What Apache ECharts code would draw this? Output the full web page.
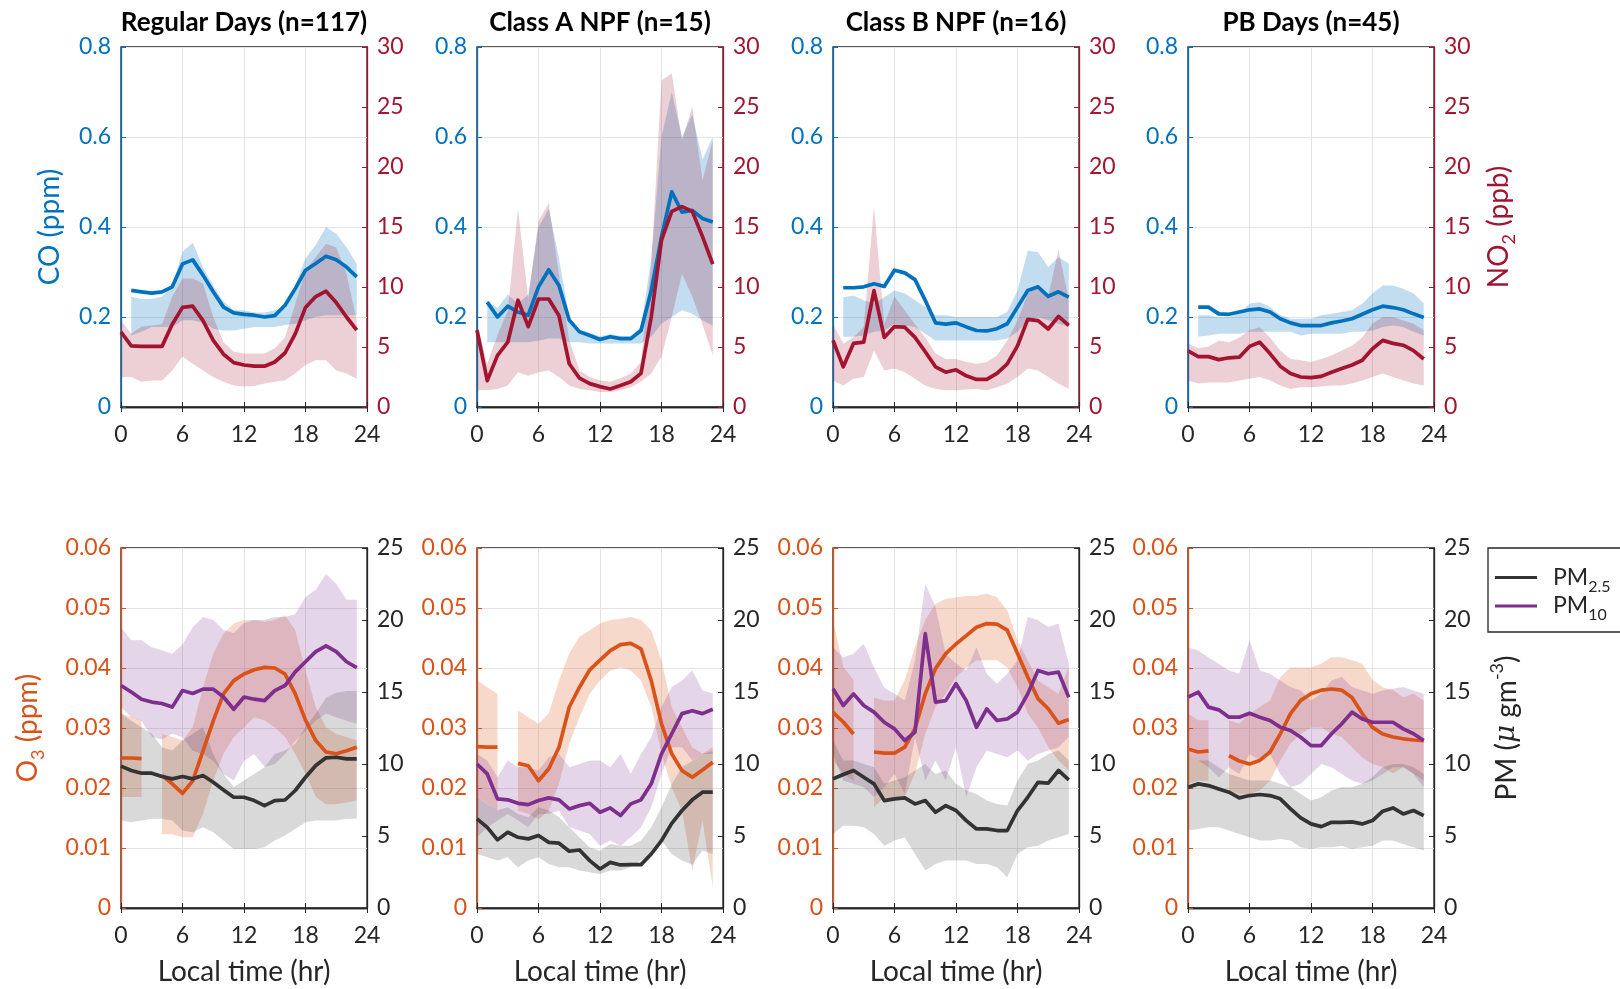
<!DOCTYPE html>
<html><head><meta charset="utf-8">
<script src="https://cdn.jsdelivr.net/npm/echarts@6/dist/echarts.min.js"></script>
<style>html,body{margin:0;padding:0;background:#fff}#c{width:1620px;height:989px}</style>
</head><body><div id="c"></div>
<script>
// ---------- categories / tick labels ----------
const hourCats = ['0','1','2','3','4','5','6','7','8','9','10','11','12','13','14','15','16','17','18','19','20','21','22','23','24'];
const panelTitles = ['Regular Days (n=117)','Class A NPF (n=15)','Class B NPF (n=16)','PB Days (n=45)'];

// ---------- CO (ppm): mean, lower, upper ----------
const co_reg    = [null,0.259,0.256,0.253,0.256,0.267,0.318,0.327,0.293,0.256,0.222,0.209,0.206,0.204,0.200,0.203,0.226,0.263,0.304,0.319,0.335,0.327,0.311,0.289];
const co_reg_lo = [null,0.159,0.167,0.178,0.178,0.178,0.193,0.193,0.187,0.174,0.170,0.170,0.174,0.178,0.178,0.178,0.182,0.185,0.193,0.200,0.204,0.204,0.204,0.204];
const co_reg_hi = [null,0.245,0.240,0.240,0.245,0.270,0.345,0.365,0.310,0.270,0.235,0.215,0.215,0.210,0.210,0.215,0.220,0.270,0.330,0.360,0.400,0.385,0.355,0.318];
const co_a      = [null,0.233,0.200,0.224,0.211,0.204,0.267,0.305,0.270,0.193,0.167,0.159,0.150,0.156,0.152,0.152,0.170,0.259,0.378,0.478,0.433,0.437,0.419,0.411];
const co_a_lo   = [null,0.144,0.144,0.144,0.144,0.144,0.148,0.152,0.152,0.144,0.144,0.141,0.141,0.141,0.141,0.141,0.141,0.156,0.185,0.200,0.215,0.207,0.193,0.181];
const co_a_hi   = [null,0.235,0.220,0.250,0.230,0.250,0.400,0.440,0.330,0.200,0.172,0.165,0.157,0.162,0.158,0.158,0.178,0.330,0.600,0.700,0.600,0.650,0.550,0.600];
const co_b      = [null,0.265,0.265,0.267,0.274,0.268,0.304,0.298,0.283,0.237,0.187,0.184,0.187,0.178,0.170,0.169,0.174,0.185,0.222,0.259,0.267,0.246,0.256,0.244];
const co_b_lo   = [null,0.156,0.156,0.159,0.167,0.170,0.185,0.181,0.178,0.163,0.148,0.148,0.148,0.148,0.148,0.148,0.148,0.152,0.167,0.193,0.200,0.193,0.185,0.178];
const co_b_hi   = [null,0.244,0.248,0.237,0.230,0.244,0.259,0.252,0.237,0.222,0.204,0.204,0.200,0.200,0.200,0.200,0.200,0.211,0.259,0.348,0.344,0.311,0.333,0.319];
const co_pb     = [null,0.222,0.222,0.207,0.206,0.211,0.216,0.218,0.211,0.196,0.187,0.181,0.181,0.181,0.187,0.191,0.196,0.206,0.216,0.224,0.221,0.216,0.207,0.199];
const co_pb_lo  = [null,0.156,0.159,0.163,0.163,0.163,0.167,0.167,0.167,0.167,0.167,0.159,0.163,0.163,0.163,0.163,0.167,0.167,0.170,0.178,0.181,0.178,0.167,0.159];
const co_pb_hi  = [null,0.204,0.204,0.200,0.200,0.207,0.230,0.233,0.222,0.204,0.196,0.196,0.196,0.204,0.207,0.211,0.215,0.230,0.252,0.270,0.270,0.263,0.252,0.230];

// ---------- NO2 (ppb) ----------
const no2_reg    = [6.25,5.1,5.05,5.05,5.05,6.9,8.3,8.4,7.2,5.55,4.4,3.7,3.5,3.4,3.4,3.75,4.5,6.1,8.3,9.2,9.65,8.7,7.5,6.4];
const no2_reg_lo = [2.5,2.5,2.1,2.2,2.2,3.05,4.2,3.6,3.05,2.5,2.1,1.8,1.7,1.75,1.95,2.1,2.2,2.8,3.5,3.9,3.9,3.05,2.8,2.35];
const no2_reg_hi = [7.2,6.1,6.7,6.8,6.9,9.2,10.7,10.7,10.3,7.5,5.4,4.6,4.45,4.45,4.45,4.9,5.8,8.6,11.4,12.5,13.6,13.3,11.1,7.2];
const no2_a      = [6.4,2.2,4.3,5.4,8.9,6.7,9.0,9.0,7.6,3.6,2.4,1.95,1.7,1.5,1.8,2.1,2.8,7.5,13.9,16.3,16.7,16.3,14.2,11.9];
const no2_a_lo   = [1.4,1.4,1.5,1.8,2.9,2.6,2.9,3.05,2.5,1.8,1.5,1.4,1.25,1.25,1.4,1.65,2.1,2.8,4.2,7.5,11.1,9.2,6.9,4.3];
const no2_a_hi   = [6.9,3.6,6.0,8.0,16.5,9.0,15.5,17.0,11.0,5.55,3.05,2.5,2.2,2.1,2.4,2.8,3.75,11.9,27.2,27.8,22.2,25.0,18.9,22.2];
const no2_b      = [5.55,3.35,5.3,5.4,9.7,5.8,6.7,6.65,5.8,4.6,3.35,2.9,3.1,2.6,2.3,2.3,2.8,3.6,5.1,7.3,7.2,6.5,7.55,6.8];
const no2_b_lo   = [2.2,1.8,2.35,2.5,4.7,3.05,3.2,2.9,2.35,1.8,1.5,1.4,1.4,1.45,1.5,1.4,1.65,1.95,2.5,3.2,3.05,2.5,1.95,1.5];
const no2_b_hi   = [6.9,5.3,5.8,6.7,16.7,6.9,9.2,8.05,6.9,5.8,4.45,4.0,4.0,3.75,3.6,3.75,4.3,5.55,7.2,9.45,10.0,9.2,13.1,8.9];
const no2_pb     = [4.67,4.2,4.2,3.95,4.1,4.15,5.05,5.4,4.45,3.4,2.8,2.5,2.45,2.55,2.9,3.2,3.5,3.9,4.85,5.55,5.3,5.15,4.7,4.0];
const no2_pb_lo  = [2.2,1.95,2.05,2.05,2.05,2.2,2.35,2.5,2.2,1.8,1.5,1.65,1.65,1.7,1.8,1.8,1.95,2.2,2.5,2.8,2.5,2.2,1.95,1.8];
const no2_pb_hi  = [5.3,4.9,5.05,5.55,5.4,5.8,6.4,6.65,5.8,4.7,4.0,3.9,3.75,4.0,4.3,4.7,5.1,5.8,6.95,7.5,7.5,7.2,6.95,6.4];

// ---------- O3 (ppm) ----------
const o3_reg    = [0.025,0.025,0.0249,null,0.0221,0.0207,0.0191,0.0212,0.0262,0.0312,0.0357,0.0379,0.039,0.0397,0.0401,0.04,0.039,0.0357,0.0313,0.0279,0.026,0.0257,0.0262,0.0268];
const o3_reg_lo = [0.0185,0.0185,0.0185,null,0.0123,0.0123,0.0118,0.0118,0.0157,0.0212,0.0257,0.0285,0.0301,0.0318,0.0313,0.0301,0.0285,0.0257,0.0224,0.0185,0.0173,0.0173,0.0176,0.0179];
const o3_reg_hi = [0.0324,0.0318,0.0313,null,0.029,0.0285,0.0279,0.0301,0.0368,0.0424,0.0457,0.0474,0.048,0.048,0.0477,0.048,0.0488,0.0463,0.0396,0.0335,0.0301,0.029,0.0285,0.0279];
const o3_a      = [0.0269,0.0268,0.0268,null,0.0241,0.0237,0.0212,0.0232,0.0268,0.0335,0.0368,0.0397,0.0413,0.0429,0.0439,0.0441,0.0432,0.0379,0.0307,0.0257,0.0229,0.0218,0.023,0.0243];
const o3_a_lo   = [0.0185,0.0174,0.0162,null,0.0162,0.0157,0.0148,0.0162,0.0207,0.0274,0.0318,0.0357,0.0379,0.0396,0.0401,0.0396,0.0379,0.0335,0.0257,0.0201,0.0162,0.0062,0.0146,0.0035];
const o3_a_hi   = [0.0379,0.0368,0.0357,null,0.0329,0.0318,0.0307,0.0324,0.0379,0.0424,0.0452,0.0463,0.0474,0.048,0.0482,0.0485,0.048,0.0463,0.0413,0.0335,0.0301,0.0268,0.0257,0.0268];
const o3_b      = [0.0326,0.031,0.029,null,0.026,0.0258,0.0258,0.0268,0.0299,0.0357,0.0399,0.0424,0.044,0.0454,0.0468,0.0474,0.0473,0.0463,0.0424,0.0385,0.0349,0.0332,0.0308,0.0314];
const o3_b_lo   = [0.0246,0.0224,0.0212,null,0.0168,0.0185,0.0179,0.0185,0.0224,0.029,0.0335,0.0357,0.0385,0.0401,0.0413,0.0413,0.0413,0.0401,0.0368,0.0324,0.0301,0.0268,0.0246,0.0229];
const o3_b_hi   = [0.0479,0.0402,0.038,null,0.0351,0.0346,0.0346,0.038,0.0435,0.048,0.0507,0.0515,0.0518,0.052,0.052,0.0524,0.0518,0.0496,0.0446,0.0413,0.0379,0.0368,0.0357,0.0402];
const o3_pb     = [0.0265,0.026,0.0262,null,0.0254,0.0245,0.024,0.0246,0.026,0.029,0.0324,0.0346,0.0357,0.0363,0.0365,0.0363,0.0351,0.0324,0.0301,0.029,0.0285,0.0282,0.028,0.0279];
const o3_pb_lo  = [0.0207,0.0212,0.0212,null,0.0196,0.019,0.019,0.0196,0.0212,0.0246,0.0274,0.029,0.0301,0.0301,0.029,0.0285,0.0268,0.0251,0.024,0.0235,0.0224,0.0235,0.0224,0.0212];
const o3_pb_hi  = [0.0324,0.0313,0.0313,null,0.0313,0.0307,0.0324,0.0335,0.0346,0.0385,0.0401,0.0401,0.0401,0.0407,0.0418,0.0418,0.0413,0.0407,0.038,0.0368,0.0363,0.0351,0.0357,0.0346];

// ---------- PM2.5 (ug m-3) ----------
const pm25_reg    = [9.85,9.55,9.36,9.36,9.13,8.97,9.13,8.97,9.2,8.73,8.2,7.69,7.69,7.46,7.11,7.46,7.5,8.16,9.08,9.9,10.43,10.47,10.36,10.36];
const pm25_reg_lo = [6.07,5.95,6.07,6.19,6.19,6.07,5.38,5.26,5.61,5.26,4.68,4.1,4.1,4.1,4.22,4.68,5.03,5.49,5.95,6.07,6.07,6.07,6.19,6.19];
const pm25_reg_hi = [13.5,13.0,12.56,12.1,11.17,10.94,11.63,12.1,12.56,10.7,9.3,8.4,8.85,9.3,9.77,10.7,10.94,11.4,12.56,13.5,14.6,14.95,15.07,15.07];
const pm25_a      = [6.19,5.6,4.73,5.26,4.91,4.8,5.03,4.56,4.5,3.94,4.03,3.29,2.71,3.17,2.99,3.01,3.01,3.75,4.68,5.88,6.77,7.51,8.04,8.04];
const pm25_a_lo   = [3.75,3.52,3.29,3.52,2.83,3.29,3.52,3.06,2.83,2.83,2.6,2.48,2.36,2.6,2.6,2.83,3.29,3.75,4.68,3.75,3.3,3.0,4.0,3.75];
const pm25_a_hi   = [7.69,7.23,6.77,7.0,6.53,6.3,7.0,6.77,6.3,5.6,4.91,4.2,3.98,4.45,4.33,4.33,4.68,5.6,7.0,8.6,9.8,10.2,10.7,10.9];
const pm25_b      = [8.97,9.27,9.55,9.08,8.62,7.46,7.58,7.65,7.23,7.46,6.65,7.11,6.77,6.07,5.49,5.49,5.38,5.38,6.77,7.69,8.73,8.67,9.55,8.9];
const pm25_b_lo   = [5.14,5.72,5.72,5.61,5.14,4.33,4.68,4.91,3.75,2.6,3.06,3.29,3.29,3.29,3.06,3.06,2.83,2.13,3.75,4.22,4.33,4.68,4.91,5.14];
const pm25_b_hi   = [11.63,10.24,10.24,10.0,9.77,8.62,8.85,9.08,9.54,10.0,9.31,9.54,8.62,8.16,7.92,7.46,7.23,7.11,8.85,10.0,10.24,10.7,10.94,10.24];
const pm25_pb     = [8.39,8.62,8.5,8.27,8.04,7.65,7.81,7.88,7.81,7.58,6.88,6.26,5.84,5.65,5.95,5.95,5.98,5.84,6.07,6.72,6.95,6.53,6.77,6.42];
const pm25_pb_lo  = [5.38,5.49,5.61,5.61,5.38,5.14,4.91,4.68,4.68,4.8,4.68,4.22,4.1,4.22,4.22,4.33,4.1,4.22,4.33,4.68,4.68,4.45,4.22,3.99];
const pm25_pb_hi  = [10.7,10.24,10.24,9.77,9.31,9.08,8.85,8.85,8.85,8.62,8.39,7.92,7.46,7.69,8.16,8.39,8.39,8.62,9.08,9.78,10.0,10.0,9.77,9.31];

// ---------- PM10 (ug m-3) ----------
const pm10_reg    = [15.45,15.0,14.5,14.3,14.2,13.95,15.1,14.9,15.2,15.2,14.65,13.8,14.65,14.5,14.4,15.1,15.45,16.4,17.1,17.8,18.2,17.8,17.1,16.7];
const pm10_reg_lo = [13.95,13.25,13.0,11.9,11.7,12.1,11.86,10.9,10.7,10.2,9.3,8.85,10.2,10.7,9.8,10.0,10.7,11.6,12.3,13.0,13.5,13.25,13.0,12.8];
const pm10_reg_hi = [19.5,18.6,18.6,18.1,17.9,17.65,18.3,19.5,20.2,20.0,19.3,19.1,19.8,20.0,20.0,20.2,20.2,20.4,21.6,22.1,23.2,22.5,21.4,21.4];
const pm10_a      = [10.0,9.31,7.58,7.51,7.27,7.18,7.46,7.65,7.51,6.88,7.11,7.27,6.65,6.95,6.42,7.23,7.51,8.62,10.7,12.1,13.5,13.7,13.5,13.8];
const pm10_a_lo   = [4.91,5.6,6.07,6.53,6.07,5.6,6.53,6.53,6.77,5.6,5.38,5.14,4.33,4.68,4.33,4.91,5.6,6.98,9.3,11.17,11.17,10.24,10.7,10.7];
const pm10_a_hi   = [10.7,10.24,9.08,10.24,9.77,9.77,9.54,10.47,10.7,9.77,10.0,10.24,10.24,9.77,10.7,9.31,10.7,11.86,13.95,15.34,15.8,16.5,15.1,14.9];
const pm10_b      = [15.22,14.06,14.87,14.06,13.6,12.9,12.44,11.63,12.21,19.05,14.3,14.4,15.57,14.4,12.55,13.83,13.02,13.13,13.6,14.87,16.5,16.27,16.38,14.64];
const pm10_b_lo   = [10.7,8.85,8.62,8.39,7.7,8.39,9.31,7.92,11.86,8.85,10.24,8.85,11.17,7.7,9.77,10.94,10.7,10.47,10.94,10.24,10.7,10.94,11.17,11.86];
const pm10_b_hi   = [18.1,17.4,17.65,18.35,16.7,15.3,14.87,14.41,17.19,22.5,20.9,17.65,16.96,16.5,18.1,16.27,15.57,16.27,17.19,20.2,19.98,19.52,19.75,16.96];
const pm10_pb     = [14.64,14.99,13.95,13.76,13.25,13.25,13.53,13.25,13.02,12.56,12.33,11.86,11.28,11.28,12.1,12.79,13.6,13.13,12.9,12.9,12.9,12.44,12.1,11.63];
const pm10_pb_lo  = [10.7,10.24,9.77,9.08,9.77,9.31,10.7,10.24,10.7,9.31,8.39,8.62,9.31,10.0,9.77,9.31,8.85,8.62,8.85,9.31,9.77,9.77,9.31,8.39];
const pm10_pb_hi  = [18.1,17.88,17.4,16.96,16.5,16.27,18.6,16.5,16.27,15.8,15.34,15.1,14.41,14.87,15.8,16.04,15.34,15.1,14.87,15.1,15.22,15.34,15.1,14.87];

// ---------- assemble ----------
const topSets = [
  {co:co_reg, coLo:co_reg_lo, coHi:co_reg_hi, no2:no2_reg, no2Lo:no2_reg_lo, no2Hi:no2_reg_hi},
  {co:co_a,   coLo:co_a_lo,   coHi:co_a_hi,   no2:no2_a,   no2Lo:no2_a_lo,   no2Hi:no2_a_hi},
  {co:co_b,   coLo:co_b_lo,   coHi:co_b_hi,   no2:no2_b,   no2Lo:no2_b_lo,   no2Hi:no2_b_hi},
  {co:co_pb,  coLo:co_pb_lo,  coHi:co_pb_hi,  no2:no2_pb,  no2Lo:no2_pb_lo,  no2Hi:no2_pb_hi}
];
const botSets = [
  {o3:o3_reg, o3Lo:o3_reg_lo, o3Hi:o3_reg_hi, p25:pm25_reg, p25Lo:pm25_reg_lo, p25Hi:pm25_reg_hi, p10:pm10_reg, p10Lo:pm10_reg_lo, p10Hi:pm10_reg_hi},
  {o3:o3_a,   o3Lo:o3_a_lo,   o3Hi:o3_a_hi,   p25:pm25_a,   p25Lo:pm25_a_lo,   p25Hi:pm25_a_hi,   p10:pm10_a,   p10Lo:pm10_a_lo,   p10Hi:pm10_a_hi},
  {o3:o3_b,   o3Lo:o3_b_lo,   o3Hi:o3_b_hi,   p25:pm25_b,   p25Lo:pm25_b_lo,   p25Hi:pm25_b_hi,   p10:pm10_b,   p10Lo:pm10_b_lo,   p10Hi:pm10_b_hi},
  {o3:o3_pb,  o3Lo:o3_pb_lo,  o3Hi:o3_pb_hi,  p25:pm25_pb,  p25Lo:pm25_pb_lo,  p25Hi:pm25_pb_hi,  p10:pm10_pb,  p10Lo:pm10_pb_lo,  p10Hi:pm10_pb_hi}
];

const FONT = 'Lato, "Noto Sans", sans-serif';
const C_CO='#0072BD', C_NO2='#A2142F', C_O3='#D95319', C_P25='#333333', C_P10='#7E2F8E', C_AX='#262626', C_GRID='#e4e4e4';
const lefts=[121,477,833,1188], PW=246, PH=360, TOP1=47, TOP2=548;
const TICK_FS=23, NAME_FS=28;

const clean = a => a.map(v => v==null ? '-' : v);
function band(lo, hi, xi, yi, color, id){
  const base = lo.map(v => v==null ? '-' : v);
  const diff = lo.map((v,i) => (v==null||hi[i]==null) ? '-' : +(hi[i]-v).toFixed(5));
  return [
    {type:'line', xAxisIndex:xi, yAxisIndex:yi, stack:id, data:base, symbol:'none', silent:true, lineStyle:{opacity:0,width:0}, z:1},
    {type:'line', xAxisIndex:xi, yAxisIndex:yi, stack:id, data:diff, symbol:'none', silent:true, lineStyle:{opacity:0,width:0}, areaStyle:{color:color, opacity:1}, z:1}
  ];
}
function line(d, xi, yi, color, name){
  const s = {type:'line', xAxisIndex:xi, yAxisIndex:yi, data:clean(d), symbol:'none', silent:true,
    lineStyle:{width:3.7, color:color, join:'round'}, itemStyle:{color:color}, z:3};
  if (name) s.name = name;
  return s;
}

const subRich = (color) => ({
  a:{fontSize:NAME_FS, lineHeight:38, color:color, fontFamily:FONT},
  s:{fontSize:18, lineHeight:18, verticalAlign:'bottom', color:color, fontFamily:FONT},
  p:{fontSize:18, lineHeight:18, verticalAlign:'top', color:color, fontFamily:FONT},
  i:{fontSize:NAME_FS, lineHeight:38, fontStyle:'italic', color:color, fontFamily:'"DejaVu Serif", serif'}
});

const grids=[], xAxes=[], yAxes=[], series=[];
for (let r=0;r<2;r++){
  for (let c=0;c<4;c++){
    const g = r*4+c;
    grids.push({left:lefts[c], top:r===0?TOP1:TOP2, width:PW, height:PH, show:true, borderColor:C_AX, borderWidth:1.3, containLabel:false});
    const xa = {type:'category', gridIndex:g, position:'bottom', data:hourCats, boundaryGap:false,
      axisLine:{lineStyle:{color:C_AX,width:1.3}},
      axisTick:{inside:true, interval:5, length:5, lineStyle:{color:C_AX}},
      axisLabel:{interval:5, color:C_AX, fontSize:TICK_FS, margin:16, fontFamily:FONT},
      splitLine:{show:true, interval:5, lineStyle:{color:C_GRID, width:1}}};
    if (r===1){ xa.name='Local time (hr)'; xa.nameLocation='middle'; xa.nameGap=50;
      xa.nameTextStyle={color:C_AX, fontSize:NAME_FS, fontFamily:FONT}; }
    xAxes.push(xa);
    const leftColor = r===0?C_CO:C_O3, rightColor = r===0?C_NO2:C_AX;
    const yl = {type:'value', gridIndex:g, position:'left', min:0, max:r===0?0.8:0.06, interval:r===0?0.2:0.01,
      axisLine:{show:true, lineStyle:{color:leftColor,width:1.3}},
      axisTick:{show:true, inside:true, length:5, lineStyle:{color:leftColor}},
      axisLabel:{color:leftColor, fontSize:TICK_FS, margin:10, fontFamily:FONT},
      splitLine:{show:true, lineStyle:{color:C_GRID, width:1}}};
    const yr = {type:'value', gridIndex:g, position:'right', min:0, max:r===0?30:25, interval:5,
      axisLine:{show:true, lineStyle:{color:rightColor,width:1.3}},
      axisTick:{show:true, inside:true, length:5, lineStyle:{color:rightColor}},
      axisLabel:{color:rightColor, fontSize:TICK_FS, margin:10, fontFamily:FONT},
      splitLine:{show:false}};
    if (r===0 && c===0){ yl.name='CO (ppm)'; yl.nameLocation='middle'; yl.nameRotate=90; yl.nameGap=57;
      yl.nameTextStyle={color:C_CO, fontSize:NAME_FS, fontFamily:FONT}; }
    if (r===0 && c===3){ yr.name='{a|NO}{s|2}{a| (ppb)}'; yr.nameLocation='middle'; yr.nameRotate=90; yr.nameGap=46;
      yr.nameTextStyle={color:C_NO2, rich:subRich(C_NO2)}; }
    if (r===1 && c===0){ yl.name='{a|O}{s|3}{a| (ppm)}'; yl.nameLocation='middle'; yl.nameRotate=90; yl.nameGap=74;
      yl.nameTextStyle={color:C_O3, rich:subRich(C_O3)}; }
    if (r===1 && c===3){ yr.name='{a|PM (}{i|μ}{a| gm}{p|-3}{a|)}'; yr.nameLocation='middle'; yr.nameRotate=90; yr.nameGap=54;
      yr.nameTextStyle={color:C_AX, rich:subRich(C_AX)}; }
    yAxes.push(yl, yr);
    const yi0 = 2*g, yi1 = 2*g+1;
    if (r===0){
      const d = topSets[c];
      series.push(...band(d.coLo, d.coHi, g, yi0, 'rgba(0,114,189,0.24)', 'co'+g));
      series.push(...band(d.no2Lo, d.no2Hi, g, yi1, 'rgba(162,20,47,0.20)', 'no2'+g));
      series.push(line(d.co, g, yi0, C_CO));
      series.push(line(d.no2, g, yi1, C_NO2));
    } else {
      const d = botSets[c];
      series.push(...band(d.o3Lo, d.o3Hi, g, yi0, 'rgba(217,83,25,0.22)', 'o3'+g));
      series.push(...band(d.p10Lo, d.p10Hi, g, yi1, 'rgba(126,47,142,0.20)', 'p10'+g));
      series.push(...band(d.p25Lo, d.p25Hi, g, yi1, 'rgba(64,64,64,0.20)', 'p25'+g));
      series.push(line(d.o3, g, yi0, C_O3));
      series.push(line(d.p25, g, yi1, C_P25, 'PM2.5'));
      series.push(line(d.p10, g, yi1, C_P10, 'PM10'));
    }
  }
}
// top-edge tick marks (box ticks), no labels
for (let g=0; g<8; g++){
  xAxes.push({type:'category', gridIndex:g, position:'top', data:hourCats, boundaryGap:false,
    axisLine:{show:true, lineStyle:{color:C_AX,width:1.3}},
    axisTick:{inside:true, interval:5, length:5, lineStyle:{color:C_AX}},
    axisLabel:{show:false}, splitLine:{show:false}});
}

const chart = echarts.init(document.getElementById('c'), null, {renderer:'canvas'});
chart.setOption({
  animation:false,
  backgroundColor:'#fff',
  title: panelTitles.map((t,i)=>({text:t, left:lefts[i]+PW/2, top:10, textAlign:'center', padding:0,
    textStyle:{fontSize:26, fontWeight:'bold', color:'#000', fontFamily:FONT}})),
  legend:{data:['PM2.5','PM10'], orient:'vertical', left:1488, top:548, itemGap:0,
    borderColor:C_AX, borderWidth:1.3, padding:[18,60,9,7], itemWidth:42, itemHeight:3, icon:'rect',
    selectedMode:false,
    formatter: n => n==='PM2.5' ? '{a|PM}{s|2.5}' : '{a|PM}{s|10}',
    textStyle:{rich:{
      a:{fontSize:23, lineHeight:34, color:C_AX, fontFamily:FONT, padding:[0,0,0,11]},
      s:{fontSize:16, lineHeight:16, verticalAlign:'bottom', color:C_AX, fontFamily:FONT}}}},
  grid:grids, xAxis:xAxes, yAxis:yAxes, series:series
});
</script></body></html>
